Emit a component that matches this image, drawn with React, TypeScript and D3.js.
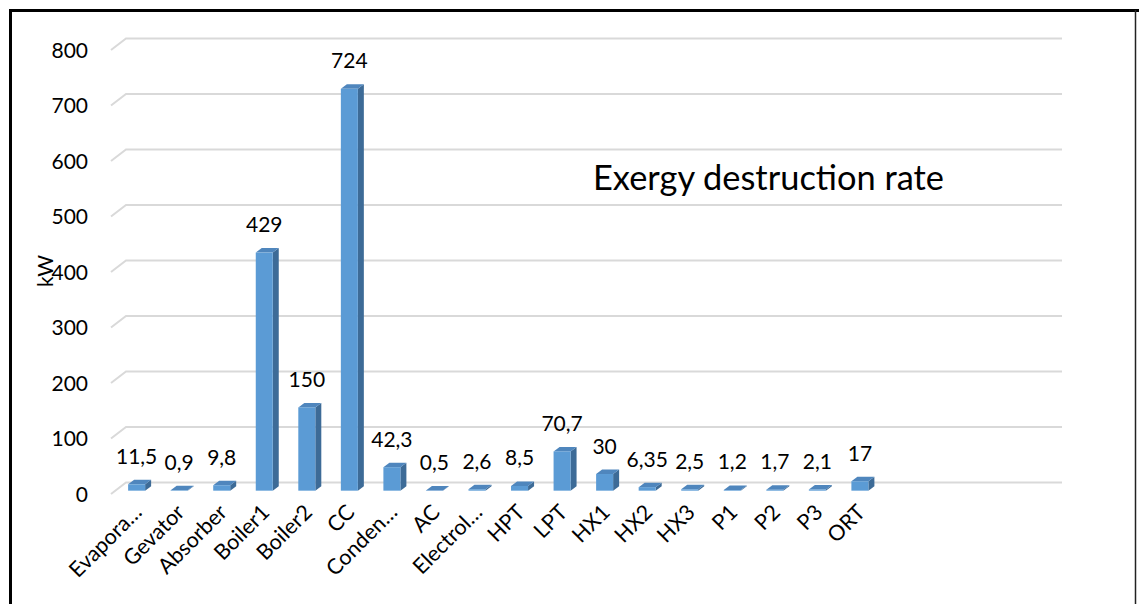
import React from "react";
import * as d3 from "d3";

// Exergy destruction rate per component (kW)
const categories = [
  "Evapora…", "Gevator", "Absorber", "Boiler1", "Boiler2", "CC", "Conden…",
  "AC", "Electrol…", "HPT", "LPT", "HX1", "HX2", "HX3", "P1", "P2", "P3", "ORT",
];
const values = [
  11.5, 0.9, 9.8, 429, 150, 724, 42.3, 0.5, 2.6, 8.5, 70.7, 30, 6.35, 2.5, 1.2,
  1.7, 2.1, 17,
];
const yTicks = [0, 100, 200, 300, 400, 500, 600, 700, 800];
const slotCount = 22; // axis keeps room for four unused slots at the right

const W = 1139;
const H = 604;

// floor/back-wall depth of the pseudo-3D frame
const DX = 15;
const DY = -11.5;
// where the columns sit inside that depth and how deep they are
const BAR_FRONT = 0.29;
const BAR_DX = 6;
const BAR_DY = -4.5;

const FONT = "Lato, 'Open Sans', sans-serif";

const fmt = (v: number) => String(v).replace(".", ",");

export default function App() {
  const x = d3
    .scaleBand<number>()
    .domain(d3.range(slotCount))
    .range([111, 1047])
    .paddingInner(0);
  const y = d3.scaleLinear().domain([0, 800]).range([494, 50]);

  const band = x.bandwidth();
  const barW = 17;
  const offX = DX * BAR_FRONT;
  const offY = DY * BAR_FRONT;
  const right = x.range()[1];

  return (
    <svg
      width={W}
      height={H}
      style={{ position: "absolute", left: 0, top: 0, background: "#fff" }}
      fontFamily={FONT}
    >
      {/* frame */}
      <line x1={9} y1={10.5} x2={W} y2={10.5} stroke="#000" strokeWidth={3} />
      <line x1={10.5} y1={9} x2={10.5} y2={H} stroke="#000" strokeWidth={3} />
      <line x1={1135.5} y1={10} x2={1135.5} y2={H} stroke="#222" strokeWidth={1.5} />

      {/* gridlines with their perspective stub */}
      {yTicks.map((t) => (
        <g key={t}>
          <polyline
            points={`${x.range()[0]},${y(t)} ${x.range()[0] + DX},${y(t) + DY} ${right + DX},${y(t) + DY}`}
            fill="none"
            stroke="#d9d9d9"
            strokeWidth={2}
          />
          <text
            x={88}
            y={y(t)}
            dy="0.36em"
            textAnchor="end"
            fontSize={21}
            fill="#000"
          >
            {t}
          </text>
        </g>
      ))}

      {/* columns */}
      {values.map((v, i) => {
        const cx = (x(i) as number) + band / 2 + offX;
        const x0 = cx - barW / 2;
        const x1 = cx + barW / 2;
        const yb = y(0) + offY;
        const yt = y(v) + offY;
        return (
          <g key={categories[i]}>
            <polygon
              points={`${x1},${yt} ${x1 + BAR_DX},${yt + BAR_DY} ${x1 + BAR_DX},${yb + BAR_DY} ${x1},${yb}`}
              fill="#3d6b97"
            />
            <polygon
              points={`${x0},${yt} ${x1},${yt} ${x1 + BAR_DX},${yt + BAR_DY} ${x0 + BAR_DX},${yt + BAR_DY}`}
              fill="#4f86bd"
            />
            <rect x={x0} y={yt} width={barW} height={yb - yt} fill="#5b9bd5" />
            <text
              x={cx}
              y={yt + BAR_DY - 16}
              textAnchor="middle"
              fontSize={21}
              fill="#000"
            >
              {fmt(v)}
            </text>
          </g>
        );
      })}

      {/* category labels */}
      {categories.map((c, i) => {
        const cx = (x(i) as number) + band / 2 + offX;
        return (
          <text
            key={c}
            transform={`translate(${cx - 4},${503}) rotate(-45)`}
            textAnchor="end"
            dy="0.7em"
            fontSize={21.5}
            fill="#000"
          >
            {c}
          </text>
        );
      })}

      {/* axis title */}
      <text
        transform={`translate(46,271) rotate(-90)`}
        textAnchor="middle"
        dy="0.35em"
        fontSize={21}
        fill="#000"
      >
        kW
      </text>

      {/* chart title */}
      <text x={593} y={190} fontSize={34.4} fill="#000">
        Exergy destruction rate
      </text>
    </svg>
  );
}
